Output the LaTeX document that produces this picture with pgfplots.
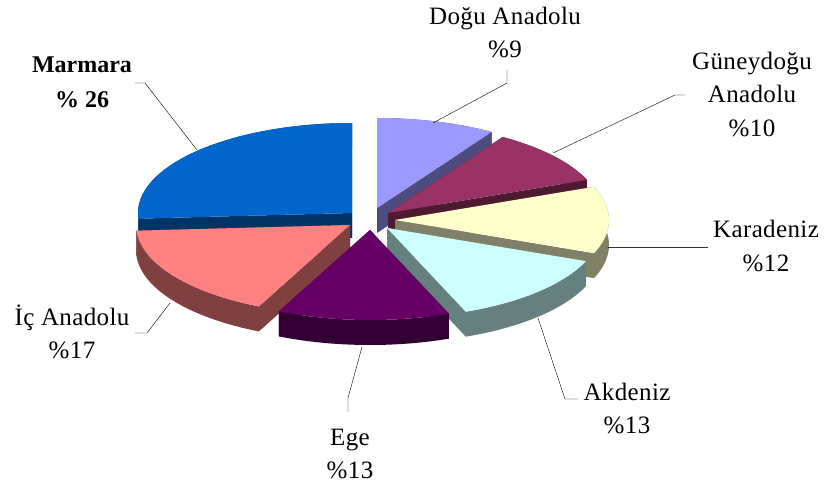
\documentclass[border=0pt]{standalone}
\usepackage{fontspec}
\setmainfont[LetterSpace=1.5]{Liberation Serif}
\usepackage{pgfplots}
\pgfplotsset{compat=1.18}
% slice values (percent)
\def\vDogu{9}\def\vGuney{10}\def\vKara{12}\def\vAk{13}\def\vEge{13}\def\vIc{17}\def\vMar{26}
\pgfmathsetmacro\tA{90}
\pgfmathsetmacro\tB{\tA-3.6*\vDogu}
\pgfmathsetmacro\tC{\tB-3.6*\vGuney}
\pgfmathsetmacro\tD{\tC-3.6*\vKara}
\pgfmathsetmacro\tE{\tD-3.6*\vAk}
\pgfmathsetmacro\tF{\tE-3.6*\vEge}
\pgfmathsetmacro\tG{\tF-3.6*\vIc}
\pgfmathsetmacro\tH{\tG-3.6*\vMar}
\definecolor{mTop}{HTML}{0066CC}\definecolor{mSide}{HTML}{003366}
\definecolor{dTop}{HTML}{9999FF}\definecolor{dSide}{HTML}{4C4C80}
\definecolor{gTop}{HTML}{993366}\definecolor{gSide}{HTML}{4D1933}
\definecolor{kTop}{HTML}{FFFFCC}\definecolor{kSide}{HTML}{808066}
\definecolor{aTop}{HTML}{CCFFFF}\definecolor{aSide}{HTML}{668080}
\definecolor{eTop}{HTML}{660066}\definecolor{eSide}{HTML}{330033}
\definecolor{iTop}{HTML}{FF8080}\definecolor{iSide}{HTML}{804040}
% #1 cx, #2 cy, #3 start angle, #4 end angle, #5 top colour, #6 side colour
\newcommand{\slice}[6]{%
  % cut faces
  \addplot[fill=#6,draw=none,samples at={0,1,2,3},variable=\s]
    ({#1+214*cos(#3)*(\s>0.5)*(\s<2.5)},{#2-90*sin(#3)*(\s>0.5)*(\s<2.5)+25*(\s>1.5)}) -- cycle;
  \addplot[fill=#6,draw=none,samples at={0,1,2,3},variable=\s]
    ({#1+214*cos(#4)*(\s>0.5)*(\s<2.5)},{#2-90*sin(#4)*(\s>0.5)*(\s<2.5)+25*(\s>1.5)}) -- cycle;
  % curved side
  \addplot[fill=#6,draw=none,domain=0:3,samples=151,variable=\s]
    ({#1+214*cos(#3+(#4-#3)*min(\s,1)-(#4-#3)*max(\s-2,0))},
     {#2-90*sin(#3+(#4-#3)*min(\s,1)-(#4-#3)*max(\s-2,0))+25*min(max(\s-1,0),1)}) -- cycle;
  % top face
  \addplot[fill=#5,draw=none,domain=#3:#4,samples=61,variable=\t]
    ({#1+214*cos(\t)},{#2-90*sin(\t)}) -- (#1,#2) -- cycle;
}
\begin{document}
\begin{tikzpicture}
\begin{axis}[width=824pt,height=486pt,scale only axis,
  xmin=0,xmax=824,ymin=0,ymax=486,y dir=reverse,hide axis,clip=false]
\path (axis cs:0,0) rectangle (axis cs:824,486);
\slice{377}{208}{\tB}{\tA}{dTop}{dSide}
\slice{388}{213}{\tC}{\tB}{gTop}{gSide}
\slice{352}{213}{\tH}{\tG}{mTop}{mSide}
\slice{395}{220}{\tD}{\tC}{kTop}{kSide}
\slice{350}{225}{\tG}{\tF}{iTop}{iSide}
\slice{387}{228}{\tE}{\tD}{aTop}{aSide}
\slice{370}{230}{\tF}{\tE}{eTop}{eSide}
% leader lines
\addplot[black,thin] coordinates {(135,83) (145,83) (197,150)};
\addplot[black,thin] coordinates {(507,70) (507,83) (433,123)};
\addplot[black,thin] coordinates {(685,95) (675,95) (553,153)};
\addplot[black!80,thin] coordinates {(608,247) (708,247)};
\addplot[black,thin] coordinates {(538,318) (565,399) (578,399)};
\addplot[black,thin] coordinates {(362,347) (348,398) (348,412)};
\addplot[black,thin] coordinates {(170,303) (147,333) (135,333)};
% labels
\begin{scope}[every node/.style={anchor=base,inner sep=0pt,font=\fontsize{25}{33}\selectfont}]
\node[font=\fontsize{24}{33}\selectfont\addfontfeatures{LetterSpace=0}] at (axis cs:82,73) {\textbf{Marmara}};
\node[font=\fontsize{24}{33}\selectfont\addfontfeatures{LetterSpace=0}] at (axis cs:82,108) {\textbf{\% 26}};
\node at (axis cs:505,25) {Doğu Anadolu};
\node at (axis cs:505,58) {\%9};
\node at (axis cs:752,70) {Güneydoğu};
\node at (axis cs:752,103) {Anadolu};
\node at (axis cs:752,137) {\%10};
\node at (axis cs:766,238) {Karadeniz};
\node at (axis cs:766,272) {\%12};
\node at (axis cs:627,400) {Akdeniz};
\node at (axis cs:627,433) {\%13};
\node at (axis cs:350,445) {Ege};
\node at (axis cs:350,478) {\%13};
\node at (axis cs:72,325) {İç Anadolu};
\node at (axis cs:72,358) {\%17};
\end{scope}
\end{axis}
\end{tikzpicture}
\end{document}
